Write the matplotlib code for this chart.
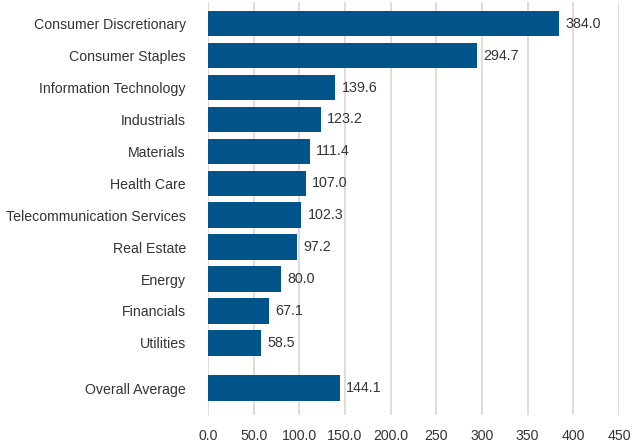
import matplotlib
matplotlib.use("Agg")
import matplotlib.pyplot as plt
import numpy as np

sectors = [
    "Consumer Discretionary",
    "Consumer Staples",
    "Information Technology",
    "Industrials",
    "Materials",
    "Health Care",
    "Telecommunication Services",
    "Real Estate",
    "Energy",
    "Financials",
    "Utilities",
    "Overall Average",
]
values = [384.0, 294.7, 139.6, 123.2, 111.4, 107.0, 102.3, 97.2, 80.0, 67.1, 58.5, 144.1]
tick_values = [0, 50, 100, 150, 200, 250, 300, 350, 400, 450]
tick_labels = ["0.0", "50.0", "100.0", "150.0", "200.0", "250", "300", "350", "400", "450"]

bar_color = "#02558b"
text_color = "#333333"

plt.rcParams["font.family"] = ["Liberation Sans", "DejaVu Sans"]

fig = plt.figure(figsize=(6.39, 4.46), dpi=100)
ax = fig.add_axes([0.3255, 0.0695, 0.6432, 0.926])

# the average sits a little apart from the sector bars
pos = np.arange(len(sectors), dtype=float)
pos[-1] += 0.42

ax.barh(pos, values, height=0.8, color=bar_color, zorder=3)
for p, v in zip(pos, values):
    ax.text(v + 7, p, f"{v:.1f}", va="center", ha="left", fontsize=10.3, color=text_color)

ax.set_xlim(0, 450)
ax.set_ylim(12.26, -0.68)
ax.set_yticks(pos)
ax.set_yticklabels(sectors, fontsize=10.2, color=text_color)
ax.set_xticks(tick_values)
ax.set_xticklabels(tick_labels, fontsize=10.2, color=text_color)
ax.tick_params(axis="y", length=0, pad=16)
ax.tick_params(axis="x", length=0, pad=10)
ax.grid(axis="x", color="#e0ddd8", linewidth=1.4, zorder=0)
for s in ax.spines.values():
    s.set_visible(False)

fig.savefig("out.png", dpi=100)
